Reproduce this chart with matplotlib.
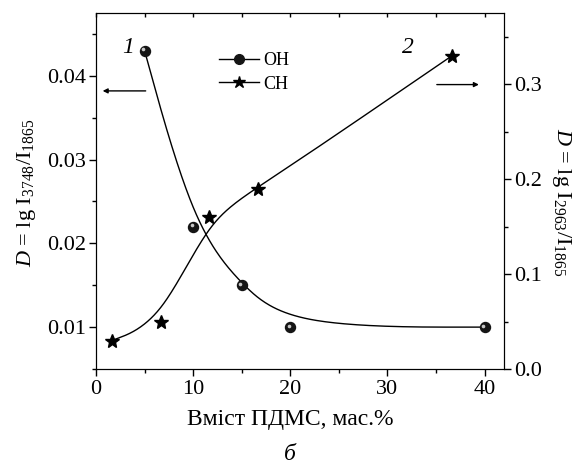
import numpy as np
import matplotlib
matplotlib.use("Agg")
import matplotlib.pyplot as plt
from matplotlib.transforms import offset_copy
from matplotlib.lines import Line2D

plt.rcParams['font.family'] = ['Liberation Serif', 'DejaVu Serif']
plt.rcParams['mathtext.fontset'] = 'custom'
plt.rcParams['mathtext.rm'] = 'Liberation Serif'
plt.rcParams['mathtext.it'] = 'Liberation Serif:italic'

# data
oh_x = [5, 10, 15, 20, 40]
oh_y = [0.043, 0.022, 0.015, 0.010, 0.010]
ch_x = [1.65, 6.65, 11.65, 16.65, 36.65]
ch_y = [0.030, 0.0495, 0.160, 0.190, 0.330]
x_ticks = [0, 10, 20, 30, 40]
left_ticks = [0.01, 0.02, 0.03, 0.04]
right_ticks = [0.0, 0.1, 0.2, 0.3]


def bspline(px, py, n=60):
    """Uniform cubic B-spline with the data points as control points
    (end points tripled so the curve starts/ends at the first/last point)."""
    P = np.column_stack([px, py]).astype(float)
    Q = np.vstack([P[:1], P[:1], P, P[-1:], P[-1:]])
    u = np.linspace(0, 1, n)
    B = np.column_stack([(1 - u) ** 3,
                         3 * u ** 3 - 6 * u ** 2 + 4,
                         -3 * u ** 3 + 3 * u ** 2 + 3 * u + 1,
                         u ** 3]) / 6.0
    pts = [B @ Q[i:i + 4] for i in range(len(Q) - 3)]
    pts = np.vstack(pts)
    return pts[:, 0], pts[:, 1]


fig = plt.figure(figsize=(5.75, 4.7), dpi=100)
ax = fig.add_axes([96 / 575, 1 - 369 / 470, 408 / 575, 356 / 470])
ax2 = ax.twinx()

bx, by = bspline(oh_x, oh_y)
ax.plot(bx, by, color='black', lw=1.0, zorder=2)
ax.plot(oh_x, oh_y, 'o', ms=7.2, mfc='#151515', mec='#151515', zorder=3)
tr = offset_copy(ax.transData, fig=fig, x=-1.1, y=1.1, units='points')
ax.plot(oh_x, oh_y, 'o', ms=2.6, mfc='#c8c8c8', mec='none', transform=tr, zorder=4)

cx, cy = bspline(ch_x, ch_y)
ax2.plot(cx, cy, color='black', lw=1.0, zorder=2)
ax2.plot(ch_x, ch_y, '*', ms=10, color='black', zorder=3)

ax.set_xlim(0, 42)
ax.set_ylim(0.005, 0.0475)
ax2.set_ylim(0, 0.375)

ax.set_xticks(x_ticks)
ax.set_xticks(np.arange(5, 42, 10), minor=True)
ax.set_xticklabels([str(v) for v in x_ticks])
ax.set_yticks(left_ticks)
ax.set_yticklabels(['%.2f' % v for v in left_ticks])
ax.set_yticks([0.005, 0.015, 0.025, 0.035, 0.045], minor=True)
ax2.set_yticks(right_ticks)
ax2.set_yticklabels(['%.1f' % v for v in right_ticks])
ax2.set_yticks([0.05, 0.15, 0.25, 0.35], minor=True)

ax.tick_params(axis='x', which='both', direction='out', top=True, labelsize=16, pad=3)
ax.tick_params(axis='x', which='major', length=5, width=1)
ax.tick_params(axis='x', which='minor', length=3, width=1)
ax.tick_params(axis='y', which='both', direction='out', labelsize=16, pad=2)
ax.tick_params(axis='y', which='major', length=5, width=1)
ax.tick_params(axis='y', which='minor', length=3, width=1)
ax2.tick_params(axis='y', which='both', direction='out', labelsize=16, pad=2)
ax2.tick_params(axis='y', which='major', length=5, width=1)
ax2.tick_params(axis='y', which='minor', length=3, width=1)
for t in ax.xaxis.get_major_ticks() + ax.xaxis.get_minor_ticks():
    t.tick2line.set_marker(3)
    t.tick2line.set_markersize(3)

ax.set_zorder(ax2.get_zorder() + 1)
ax.patch.set_visible(False)

fig.text(27 / 575, 1 - 193 / 470, r'$\mathit{D}$ = lg I$_{3748}$/I$_{1865}$', rotation=90,
         ha='center', va='center', fontsize=16)
fig.text(561 / 575, 1 - 202 / 470, r'$\mathit{D}$ = lg I$_{2963}$/I$_{1865}$', rotation=270,
         ha='center', va='center', fontsize=16)
fig.text(290 / 575, 1 - 420 / 470, 'Вміст ПДМС, мас.%', ha='center', va='center', fontsize=17)
fig.text(290 / 575, 1 - 454 / 470, 'б', ha='center', va='center', fontsize=17, style='italic')

ax.text(3.3, 0.0434, '1', fontsize=17, style='italic', ha='center', va='center')
ax.text(32.1, 0.0434, '2', fontsize=17, style='italic', ha='center', va='center')

ax.annotate('', xy=(0.4, 0.0382), xytext=(5.4, 0.0382),
            arrowprops=dict(arrowstyle='-|>', color='black', lw=1, mutation_scale=7))
ax2.annotate('', xy=(39.7, 0.2996), xytext=(34.8, 0.2996),
             arrowprops=dict(arrowstyle='-|>', color='black', lw=1, mutation_scale=7))

h1 = Line2D([], [], color='black', lw=1, marker='o', ms=7, mfc='#151515', mec='#151515')
h2 = Line2D([], [], color='black', lw=1, marker='*', ms=9)
ax.legend([h1, h2], ['OH', 'CH'], loc='upper left', bbox_to_anchor=(0.27, 0.925),
          frameon=False, fontsize=13, handlelength=2.2, handletextpad=0.25, labelspacing=0.35,
          borderpad=0.2)

fig.savefig('out.png', dpi=100)
